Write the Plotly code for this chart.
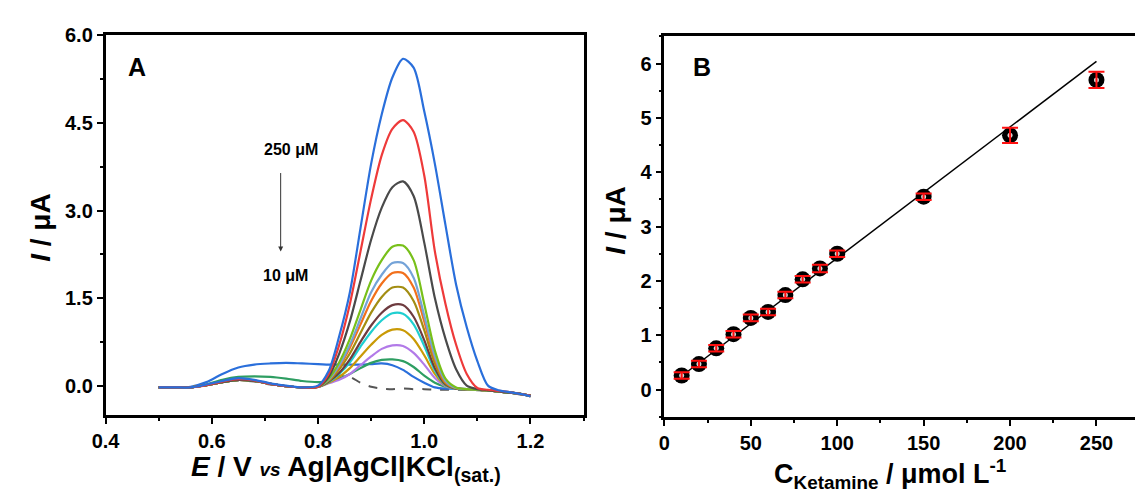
import plotly.graph_objects as go

# ---------------- Panel A: differential pulse voltammograms ----------------
potential = [0.50, 0.53, 0.56, 0.59, 0.62, 0.65, 0.68, 0.71, 0.74, 0.77, 0.80,
             0.82, 0.84, 0.86, 0.88, 0.90, 0.92, 0.94, 0.96, 0.98, 1.00,
             1.02, 1.04, 1.06, 1.08, 1.10, 1.12, 1.14, 1.16, 1.18, 1.20]

blank = [-0.03, -0.03, -0.03, 0.01, 0.06, 0.09, 0.07, 0.02, -0.01, -0.03, -0.02,
         0.10, 0.17, 0.15, 0.05, -0.02, -0.05, -0.06, -0.05, -0.06, -0.06,
         -0.07, -0.07, -0.07, -0.07, -0.08, -0.09, -0.10, -0.12, -0.15, -0.19]
i_10 = [-0.03, -0.03, -0.02, 0.06, 0.20, 0.31, 0.36, 0.38, 0.39, 0.38, 0.37,
        0.36, 0.36, 0.36, 0.36, 0.37, 0.38, 0.35, 0.27, 0.15, 0.05,
        -0.03, -0.05, -0.05, -0.06, -0.07, -0.08, -0.10, -0.12, -0.14, -0.17]
i_20 = [-0.03, -0.03, -0.03, 0.02, 0.10, 0.15, 0.16, 0.15, 0.12, 0.08, 0.06,
        0.07, 0.12, 0.20, 0.30, 0.39, 0.44, 0.45, 0.42, 0.32, 0.17,
        0.05, -0.02, -0.05, -0.06, -0.07, -0.08, -0.10, -0.12, -0.14, -0.17]
i_30 = [-0.03, -0.03, -0.03, 0.01, 0.06, 0.10, 0.08, 0.03, -0.01, -0.03, -0.02,
        0.04, 0.10, 0.20, 0.35, 0.50, 0.63, 0.69, 0.68, 0.56, 0.36,
        0.13, -0.01, -0.05, -0.06, -0.07, -0.08, -0.10, -0.12, -0.14, -0.17]
i_40 = [-0.03, -0.03, -0.03, 0.01, 0.06, 0.10, 0.08, 0.03, -0.01, -0.03, -0.02,
        0.05, 0.15, 0.30, 0.50, 0.70, 0.87, 0.96, 0.95, 0.80, 0.52,
        0.20, 0.00, -0.05, -0.06, -0.07, -0.08, -0.10, -0.12, -0.14, -0.17]
i_50 = [-0.03, -0.03, -0.03, 0.01, 0.06, 0.10, 0.08, 0.03, -0.01, -0.03, -0.02,
        0.06, 0.20, 0.40, 0.67, 0.92, 1.12, 1.24, 1.23, 1.05, 0.68,
        0.26, 0.01, -0.05, -0.06, -0.07, -0.08, -0.10, -0.12, -0.14, -0.17]
i_60 = [-0.03, -0.03, -0.03, 0.01, 0.06, 0.10, 0.08, 0.03, -0.01, -0.03, -0.02,
        0.07, 0.22, 0.45, 0.75, 1.03, 1.25, 1.38, 1.38, 1.18, 0.78,
        0.30, 0.02, -0.05, -0.06, -0.07, -0.08, -0.10, -0.12, -0.14, -0.17]
i_70 = [-0.03, -0.03, -0.03, 0.01, 0.06, 0.10, 0.08, 0.03, -0.01, -0.03, -0.02,
        0.08, 0.28, 0.55, 0.90, 1.25, 1.52, 1.68, 1.68, 1.45, 0.95,
        0.38, 0.04, -0.05, -0.06, -0.07, -0.08, -0.10, -0.12, -0.14, -0.17]
i_80 = [-0.03, -0.03, -0.03, 0.01, 0.06, 0.10, 0.08, 0.03, -0.01, -0.03, -0.02,
        0.10, 0.32, 0.65, 1.05, 1.45, 1.75, 1.93, 1.93, 1.68, 1.10,
        0.45, 0.06, -0.04, -0.06, -0.07, -0.08, -0.10, -0.12, -0.14, -0.17]
i_90 = [-0.03, -0.03, -0.03, 0.01, 0.06, 0.10, 0.08, 0.03, -0.01, -0.03, -0.02,
        0.10, 0.35, 0.70, 1.15, 1.60, 1.90, 2.10, 2.10, 1.85, 1.20,
        0.50, 0.08, -0.04, -0.06, -0.07, -0.08, -0.10, -0.12, -0.14, -0.17]
i_100 = [-0.03, -0.03, -0.03, 0.01, 0.06, 0.10, 0.08, 0.03, -0.01, -0.03, -0.02,
         0.12, 0.40, 0.80, 1.30, 1.80, 2.15, 2.38, 2.40, 2.15, 1.40,
         0.60, 0.12, -0.03, -0.06, -0.07, -0.08, -0.10, -0.12, -0.14, -0.17]
i_150 = [-0.03, -0.03, -0.03, 0.01, 0.06, 0.10, 0.08, 0.03, -0.01, -0.03, -0.02,
         0.15, 0.55, 1.10, 1.80, 2.50, 3.05, 3.40, 3.50, 3.25, 2.45,
         1.50, 0.80, 0.28, 0.00, -0.06, -0.08, -0.10, -0.12, -0.14, -0.17]
i_200 = [-0.03, -0.03, -0.03, 0.01, 0.07, 0.11, 0.09, 0.03, -0.01, -0.03, -0.02,
         0.20, 0.70, 1.40, 2.30, 3.20, 3.95, 4.40, 4.55, 4.35, 3.60,
         2.30, 1.40, 0.70, 0.20, -0.04, -0.07, -0.09, -0.11, -0.14, -0.17]
i_250 = [-0.03, -0.03, -0.03, 0.02, 0.08, 0.13, 0.10, 0.04, 0.00, -0.03, 0.00,
         0.25, 0.85, 1.60, 2.70, 3.80, 4.65, 5.28, 5.60, 5.45, 4.70,
         3.80, 2.75, 1.73, 1.00, 0.42, 0.00, -0.08, -0.11, -0.14, -0.18]

voltammograms = [
    (i_10, "#2a6fdb"), (i_20, "#2e9e62"), (i_30, "#b27ae8"), (i_40, "#c99a06"),
    (i_50, "#1fcfd0"), (i_60, "#6e3b3f"), (i_70, "#a38d12"), (i_80, "#f2701c"),
    (i_90, "#74a3d8"), (i_100, "#78c01a"), (i_150, "#4a4a4a"), (i_200, "#ee3a3a"),
    (i_250, "#2a6fdb"),
]

# ---------------- Panel B: calibration plot ----------------
conc = [10, 20, 30, 40, 50, 60, 70, 80, 90, 100, 150, 200, 250]
current = [0.26, 0.47, 0.76, 1.02, 1.32, 1.43, 1.74, 2.03, 2.23, 2.50, 3.55, 4.68, 5.70]
current_err = [0.06, 0.06, 0.06, 0.06, 0.06, 0.06, 0.06, 0.06, 0.07, 0.06, 0.06, 0.14, 0.15]
fit_x = [10, 250]
fit_y = [0.25, 6.04]

FONT = "Liberation Sans, Arial, sans-serif"

fig = go.Figure()

fig.add_trace(go.Scatter(x=potential, y=blank, mode="lines",
                         line=dict(color="#555555", width=2, dash="dash",
                                   shape="spline", smoothing=0.8),
                         xaxis="x", yaxis="y", showlegend=False))
for values, colour in voltammograms:
    fig.add_trace(go.Scatter(x=potential, y=values, mode="lines",
                             line=dict(color=colour, width=2.2,
                                       shape="spline", smoothing=0.8),
                             xaxis="x", yaxis="y", showlegend=False))

fig.add_trace(go.Scatter(x=fit_x, y=fit_y, mode="lines",
                         line=dict(color="black", width=1.5),
                         xaxis="x2", yaxis="y2", showlegend=False))
fig.add_trace(go.Scatter(x=conc, y=current, mode="markers",
                         marker=dict(size=16, color="black"),
                         xaxis="x2", yaxis="y2", showlegend=False))
fig.add_trace(go.Scatter(x=conc, y=current, mode="markers",
                         marker=dict(size=5, color="#d8d8d8",
                                     line=dict(width=0)),
                         xaxis="x2", yaxis="y2", showlegend=False))
fig.add_trace(go.Scatter(x=conc, y=current, mode="markers",
                         marker=dict(size=1, color="rgba(0,0,0,0)"),
                         error_y=dict(type="data", array=current_err, visible=True,
                                      color="#ff1010", thickness=2, width=8),
                         xaxis="x2", yaxis="y2", showlegend=False))

W, H = 1135, 495


def px_x(p):
    return p / W


def px_y(p):
    return 1 - p / H


axis_common = dict(showline=True, linecolor="black", linewidth=2.5,
                   ticks="outside", ticklen=6, tickwidth=2, tickcolor="black",
                   showgrid=False, zeroline=False,
                   tickfont=dict(family=FONT, size=20, color="black", weight="bold"))

fig.update_layout(
    width=W, height=H,
    margin=dict(l=0, r=0, t=0, b=0),
    paper_bgcolor="white", plot_bgcolor="white",
    xaxis=dict(domain=[px_x(92.7), px_x(576.7)], range=[0.4, 1.3],
               tick0=0.4, dtick=0.2, tickformat=".1f", anchor="y", mirror=True,
               minor=dict(tick0=0.4, dtick=0.1, ticklen=3, tickwidth=1.5,
                          ticks="outside", tickcolor="black"),
               **axis_common),
    yaxis=dict(domain=[px_y(413), px_y(25)], range=[-0.5, 6.0],
               tick0=0, dtick=1.5, tickformat=".1f", anchor="x", mirror=True,
               minor=dict(tick0=0, dtick=0.75, ticklen=3, tickwidth=1.5,
                          ticks="outside", tickcolor="black"),
               **axis_common),
    xaxis2=dict(domain=[px_x(658.5), 1.0], range=[0, 272.3],
                tick0=0, dtick=50, anchor="y2", mirror=True,
                minor=dict(tick0=0, dtick=25, ticklen=3, tickwidth=1.5,
                           ticks="outside", tickcolor="black"),
                **axis_common),
    yaxis2=dict(domain=[px_y(415), px_y(26)], range=[-0.5, 6.5],
                tick0=0, dtick=1, anchor="x2", mirror=False,
                minor=dict(tick0=0, dtick=0.5, ticklen=3, tickwidth=1.5,
                           ticks="outside", tickcolor="black"),
                **axis_common),
)


def label(text, x, y, size, angle=0, xanchor="center", yanchor="middle"):
    fig.add_annotation(text=text, x=px_x(x), y=px_y(y), xref="paper", yref="paper",
                       showarrow=False, textangle=angle,
                       xanchor=xanchor, yanchor=yanchor,
                       font=dict(family=FONT, size=size, color="black", weight="bold"))


label("A", 125, 57, 25)
label("B", 697, 57, 25)
label("250 μM", 280, 142, 16)
label("10 μM", 275, 270, 16)
label("<i>E</i> / V <i><span style='font-size:19px'>vs</span></i> Ag|AgCl|KCl<sub>(sat.)</sub>",
      336, 468, 28)
label("<i>I</i> / μA", 26, 222, 28, angle=-90)
label("<i>I</i> / μA", 609, 214, 28, angle=-90)
label("C<sub>Ketamine</sub> / μmol L<sup>-1</sup>", 887, 474, 27)

# concentration arrow
fig.add_annotation(x=px_x(270), y=px_y(246), xref="paper", yref="paper",
                   ax=0, ay=-80, text="", showarrow=True,
                   arrowhead=2, arrowsize=1, arrowwidth=1, arrowcolor="#333333")

fig.write_html("out.html")
